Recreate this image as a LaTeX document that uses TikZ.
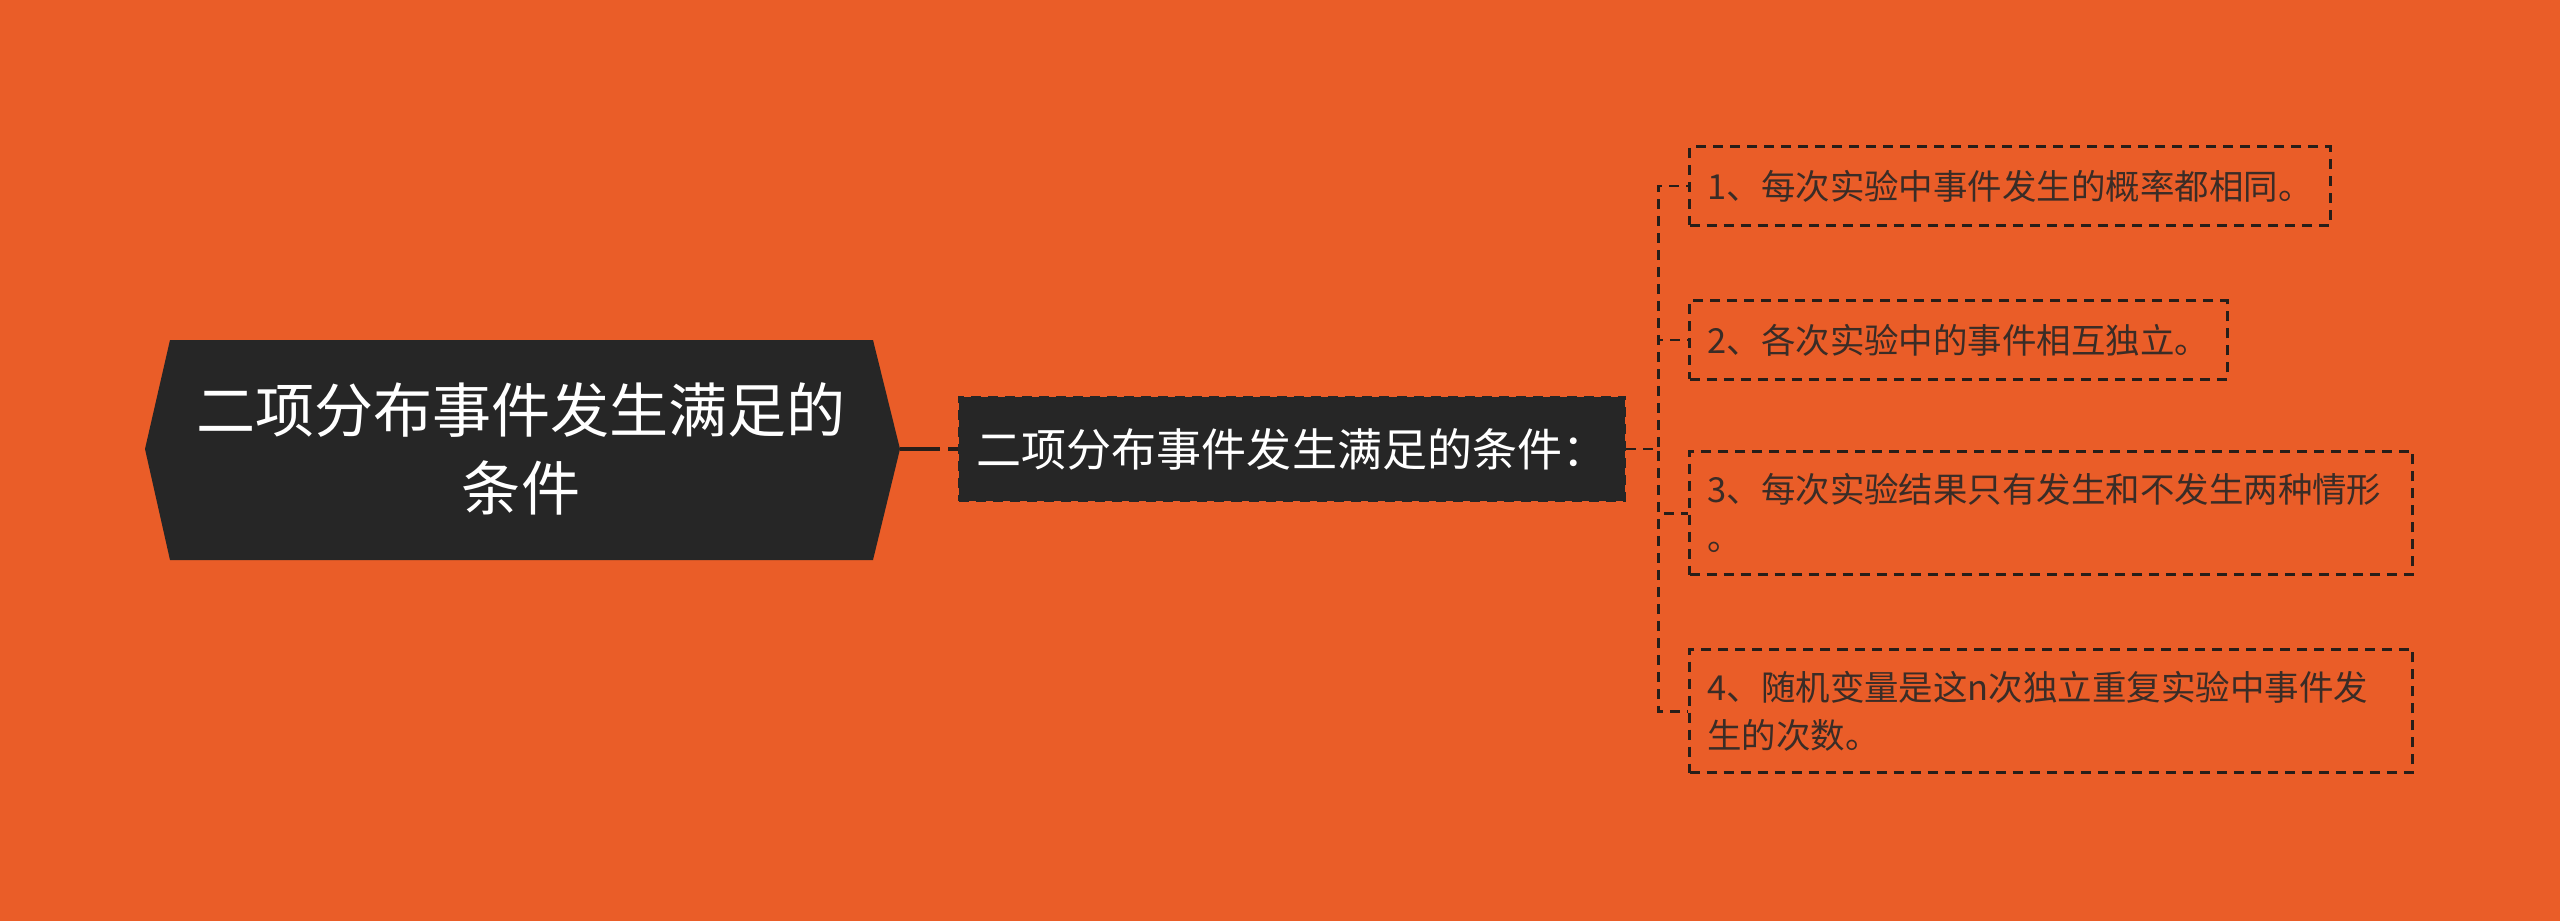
\documentclass[tikz,border=0pt]{standalone}
\usepackage{fontspec}
\newfontfamily\cjk{Noto Sans CJK SC}
\usetikzlibrary{calc}
\definecolor{bgorange}{RGB}{234,93,40}
\definecolor{darkbox}{RGB}{38,38,38}
\definecolor{inkline}{RGB}{40,30,25}
\definecolor{leaftext}{RGB}{58,44,38}

\begin{document}
\begin{tikzpicture}[x=0.01cm,y=-0.01cm,
    link/.style={draw=inkline,line width=0.85pt,dash pattern=on 0.1cm off 0.07cm},
    leaf/.style={draw=inkline,line width=0.85pt,dash pattern=on 0.1cm off 0.07cm,
      text=leaftext,font=\cjk\fontsize{9.8}{13.6}\selectfont,anchor=west,
      inner xsep=0.18cm,minimum height=0.78cm,align=left}]

  \useasboundingbox (0,0) rectangle (2560,921);
  \fill[bgorange] (0,0) rectangle (2560,921);

  % root hexagon
  \fill[darkbox] (170,340) -- (873,340) -- (900,449) -- (873,560)
    -- (170,560) -- (145,449) -- cycle;
  \coordinate (roottip) at (900,449);
  \node[text=white,font=\cjk\fontsize{16.8}{22.4}\selectfont,align=center,
        minimum width=7.03cm,minimum height=2.2cm] (root) at (521,449)
        {二项分布事件发生满足的\\条件};

  \node[fill=darkbox,draw=black!85,line width=0.85pt,
        dash pattern=on 0.1cm off 0.07cm,text=white,
        font=\cjk\fontsize{12.8}{16}\selectfont,
        minimum width=6.65cm,minimum height=1.03cm] (mid) at (1292,449)
        {二项分布事件发生满足的条件：};

  \node[leaf] (c1) at (1688,186) {1、每次实验中事件发生的概率都相同。};
  \node[leaf] (c2) at (1688,340) {2、各次实验中的事件相互独立。};
  \node[leaf,text width=6.87cm,minimum height=1.23cm] (c3) at (1688,513)
    {3、每次实验结果只有发生和不发生两种情形\\。};
  \node[leaf,text width=6.87cm,minimum height=1.23cm] (c4) at (1688,711)
    {4、随机变量是这n次独立重复实验中事件发\\生的次数。};

  \draw[link,line width=1.1pt,dash pattern=on 0.4cm off 0.08cm on 0.1cm off 0.08cm]
    (roottip) -- (mid.west);
  \foreach \c in {c1,c2,c3,c4}
    \draw[link] (mid.east) -- ++(32,0) |- (\c.west);

\end{tikzpicture}
\end{document}
